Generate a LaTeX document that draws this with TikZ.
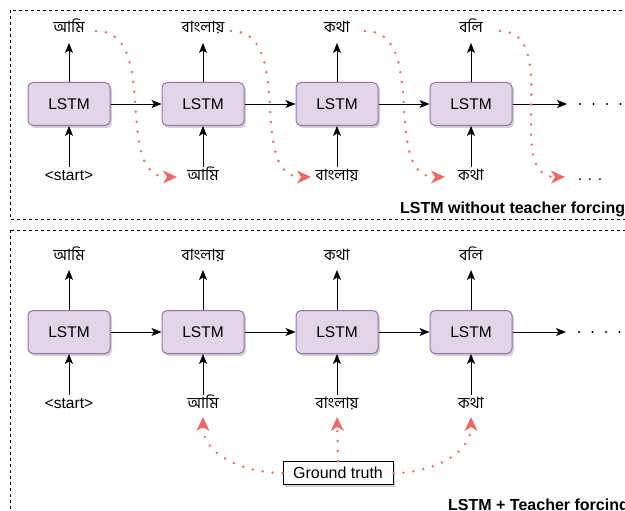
\documentclass[tikz,border=0pt]{standalone}
\usepackage{fontspec}
\setmainfont{Liberation Sans}
\newfontfamily\bn[Script=Bengali]{Hind Siliguri}
\usetikzlibrary{arrows.meta,shadows}
\definecolor{lstmfill}{HTML}{E1D5E7}
\definecolor{lstmline}{HTML}{9673A6}
\definecolor{tfred}{HTML}{EA6B66}
\tikzset{
  lstm/.style={draw=lstmline, fill=lstmfill, line width=1pt, rounded corners=5pt,
    minimum width=82pt, minimum height=43pt, font=\fontsize{15.5}{18}\selectfont,
    drop shadow={shadow xshift=2pt, shadow yshift=-2.5pt, opacity=0.3, fill=black!60}},
  word/.style={font=\fontsize{15.5}{18}\selectfont\bn, inner sep=0pt, text height=10pt, text depth=3pt},
  tok/.style={font=\fontsize{15.5}{18}\selectfont, inner sep=0pt, text height=10pt, text depth=3pt},
  truthbox/.style={draw, fill=white, line width=0.9pt, minimum width=110pt, minimum height=23pt,
    font=\fontsize{16}{19}\selectfont,
    drop shadow={shadow xshift=2pt, shadow yshift=-2.5pt, opacity=0.3, fill=black!60}},
  flow/.style={-{Stealth[length=10pt,width=8pt,inset=2.5pt]}, line width=0.9pt},
  feed/.style={tfred, line width=2.7pt, line cap=round, dash pattern=on 0pt off 10pt,
    -{Stealth[length=14pt,width=13pt,inset=4pt,line width=0pt]}},
  more/.style={line width=2.3pt, line cap=round, dash pattern=on 0pt off 13.5pt},
  frame/.style={dashed, line width=0.8pt},
  caption/.style={font=\fontsize{16}{19}\selectfont\bfseries, inner sep=0pt},
}
\begin{document}
\begin{tikzpicture}[x=1pt, y=1pt]
        \useasboundingbox (0,0) rectangle (625,-511);
        \clip (0,0) rectangle (625,-511);
        \draw[frame] (10,-10) rectangle (650,-219);
        \draw[frame] (10,-230) rectangle (650,-540);
        % without teacher forcing
        \node[lstm] (lstmA1) at (69,-104) {LSTM};
        \node[lstm] (lstmA2) at (203,-104) {LSTM};
        \node[lstm] (lstmA3) at (337,-104) {LSTM};
        \node[lstm] (lstmA4) at (471,-104) {LSTM};
        \node[word] (outA1) at (69,-29) {আমি};
        \node[word] (outA2) at (203,-29) {বাংলায়};
        \node[word] (outA3) at (337,-29) {কথা};
        \node[word] (outA4) at (471,-29) {বলি};
        \node[tok] (inA1) at (69,-177) {<start>};
        \node[word] (inA2) at (203,-177) {আমি};
        \node[word] (inA3) at (337,-177) {বাংলায়};
        \node[word] (inA4) at (471,-177) {কথা};
        \node[tok] (moreA) at (590,-177) {. . .};
        \coordinate (endA) at (567,-104);
        \draw[flow] (lstmA1) -- (lstmA2);
        \draw[flow] (lstmA2) -- (lstmA3);
        \draw[flow] (lstmA3) -- (lstmA4);
        \draw[flow] (lstmA4) -- (endA);
        \draw[more] ([xshift=13pt]endA) -- ++(60,0);
        \draw[flow] (lstmA1.north) -- ([yshift=-14pt]outA1.center);
        \draw[flow] (lstmA2.north) -- ([yshift=-14pt]outA2.center);
        \draw[flow] (lstmA3.north) -- ([yshift=-14pt]outA3.center);
        \draw[flow] (lstmA4.north) -- ([yshift=-14pt]outA4.center);
        \draw[flow] ([yshift=10pt]inA1.center) -- (lstmA1.south);
        \draw[flow] ([yshift=10pt]inA2.center) -- (lstmA2.south);
        \draw[flow] ([yshift=10pt]inA3.center) -- (lstmA3.south);
        \draw[flow] ([yshift=10pt]inA4.center) -- (lstmA4.south);
        \draw[feed] ([xshift=27pt,yshift=-2pt]outA1.center) to[out=0, in=180] ([xshift=-26pt]inA2.center);
        \draw[feed] ([xshift=28pt,yshift=-2pt]outA2.center) to[out=0, in=180] ([xshift=-26pt]inA3.center);
        \draw[feed] ([xshift=28pt,yshift=-2pt]outA3.center) to[out=0, in=180] ([xshift=-26pt]inA4.center);
        \draw[feed] ([xshift=29pt,yshift=-2pt]outA4.center) to[out=0, in=180] ([xshift=-25pt]moreA.center);
        \node[caption, anchor=base west] (capA) at (400,-213) {LSTM without teacher forcing};
        % teacher forcing
        \node[lstm] (lstmB1) at (69,-332) {LSTM};
        \node[lstm] (lstmB2) at (203,-332) {LSTM};
        \node[lstm] (lstmB3) at (337,-332) {LSTM};
        \node[lstm] (lstmB4) at (471,-332) {LSTM};
        \node[word] (outB1) at (69,-257) {আমি};
        \node[word] (outB2) at (203,-257) {বাংলায়};
        \node[word] (outB3) at (337,-257) {কথা};
        \node[word] (outB4) at (471,-257) {বলি};
        \node[tok] (inB1) at (69,-405) {<start>};
        \node[word] (inB2) at (203,-405) {আমি};
        \node[word] (inB3) at (337,-405) {বাংলায়};
        \node[word] (inB4) at (471,-405) {কথা};
        \coordinate (endB) at (566,-332);
        \draw[flow] (lstmB1) -- (lstmB2);
        \draw[flow] (lstmB2) -- (lstmB3);
        \draw[flow] (lstmB3) -- (lstmB4);
        \draw[flow] (lstmB4) -- (endB);
        \draw[more] ([xshift=13pt]endB) -- ++(60,0);
        \draw[flow] (lstmB1.north) -- ([yshift=-13pt]outB1.center);
        \draw[flow] (lstmB2.north) -- ([yshift=-13pt]outB2.center);
        \draw[flow] (lstmB3.north) -- ([yshift=-13pt]outB3.center);
        \draw[flow] (lstmB4.north) -- ([yshift=-13pt]outB4.center);
        \draw[flow] ([yshift=10pt]inB1.center) -- (lstmB1.south);
        \draw[flow] ([yshift=10pt]inB2.center) -- (lstmB2.south);
        \draw[flow] ([yshift=10pt]inB3.center) -- (lstmB3.south);
        \draw[flow] ([yshift=10pt]inB4.center) -- (lstmB4.south);
        \node[truthbox] (truth) at (338,-473) {Ground truth};
        \draw[feed] (truth.west) to[out=180, in=-90] ([yshift=-12pt]inB2.center);
        \draw[feed] (truth.north) -- ([yshift=-12pt]inB3.center);
        \draw[feed] (truth.east) to[out=0, in=-90] ([yshift=-12pt]inB4.center);
        \node[caption, anchor=base west] (capB) at (448,-510) {LSTM + Teacher forcing};
\end{tikzpicture}
\end{document}
